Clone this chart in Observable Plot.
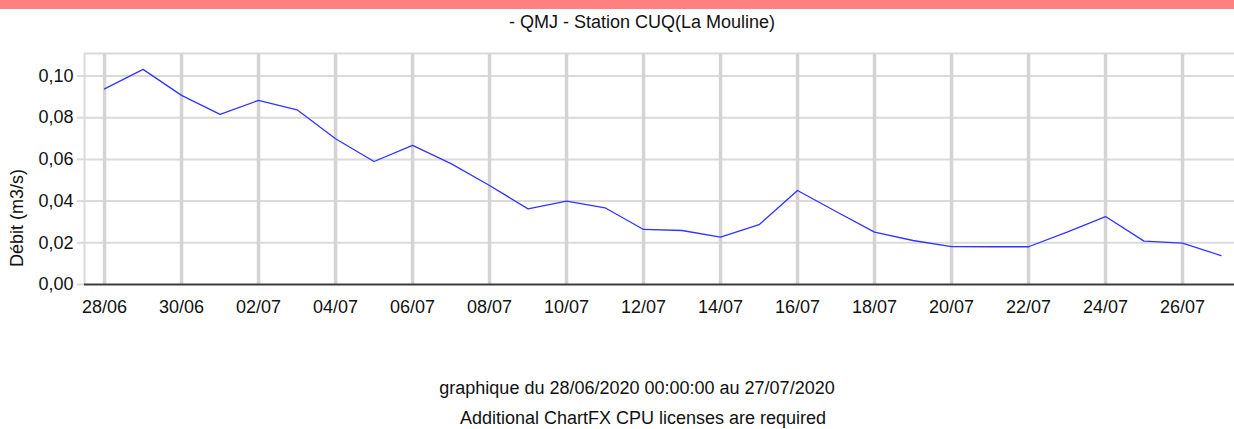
<!DOCTYPE html>
<html>
<head>
<meta charset="utf-8">
<script src="https://cdn.jsdelivr.net/npm/d3@7"></script>
<script src="https://cdn.jsdelivr.net/npm/@observablehq/plot@0.6"></script>
<style>
  html, body { margin: 0; padding: 0; background: #fff; }
  body { width: 1234px; height: 429px; position: relative; overflow: hidden;
         font-family: "Liberation Sans", Arial, sans-serif; color: #111; }
  #bar { position: absolute; left: 0; top: 0; width: 1234px; height: 9px; background: #ff8080; }
  .t { position: absolute; white-space: nowrap; font-size: 18px; line-height: 18px; transform: translateX(-50%); }
  #ylab { position: absolute; white-space: nowrap; font-size: 18px; line-height: 18px;
          left: 17px; top: 218px; transform: translate(-50%, -50%) rotate(-90deg); }
  #chart { position: absolute; left: 0; top: 40px; }
</style>
</head>
<body>
<div id="bar"></div>
<div class="t" id="title" style="left:642px; top:13px;"></div>
<div id="ylab"></div>
<div id="chart"></div>
<div class="t" id="foot1" style="left:637px; top:379px;"></div>
<div class="t" id="foot2" style="left:643px; top:409px;"></div>
<script>
// ---- data ----
const titleText = "- QMJ - Station CUQ(La Mouline)";
const yLabel = "Débit (m3/s)";
const footer1 = "graphique du 28/06/2020 00:00:00 au 27/07/2020";
const footer2 = "Additional ChartFX CPU licenses are required";

const days = [
  "2020-06-28","2020-06-29","2020-06-30","2020-07-01","2020-07-02","2020-07-03",
  "2020-07-04","2020-07-05","2020-07-06","2020-07-07","2020-07-08","2020-07-09",
  "2020-07-10","2020-07-11","2020-07-12","2020-07-13","2020-07-14","2020-07-15",
  "2020-07-16","2020-07-17","2020-07-18","2020-07-19","2020-07-20","2020-07-21",
  "2020-07-22","2020-07-23","2020-07-24","2020-07-25","2020-07-26","2020-07-27"
];
const debit = [
  0.0938, 0.1032, 0.0907, 0.0816, 0.0883, 0.0838,
  0.0699, 0.0590, 0.0667, 0.0580, 0.0475, 0.0363,
  0.0400, 0.0368, 0.0264, 0.0259, 0.0227, 0.0287,
  0.0451, 0.0350, 0.0251, 0.0211, 0.0182, 0.0181,
  0.0181, 0.0251, 0.0326, 0.0208, 0.0198, 0.0139
];
const xTickDays = [
  "2020-06-28","2020-06-30","2020-07-02","2020-07-04","2020-07-06","2020-07-08",
  "2020-07-10","2020-07-12","2020-07-14","2020-07-16","2020-07-18","2020-07-20",
  "2020-07-22","2020-07-24","2020-07-26"
];
const xTickLabels = [
  "28/06","30/06","02/07","04/07","06/07","08/07","10/07","12/07",
  "14/07","16/07","18/07","20/07","22/07","24/07","26/07"
];
const yTicks = [0, 0.02, 0.04, 0.06, 0.08, 0.10];
const yTickLabels = ["0,00","0,02","0,04","0,06","0,08","0,10"];
const xDomain = ["2020-06-27T11:30:00Z", "2020-07-27T08:24:00Z"];
const yDomain = [0, 0.1108];

// ---- build ----
document.getElementById("title").textContent = titleText;
document.getElementById("ylab").textContent = yLabel;
document.getElementById("foot1").textContent = footer1;
document.getElementById("foot2").textContent = footer2;

const data = days.map((d, i) => ({date: new Date(d + "T00:00:00Z"), q: debit[i]}));
const xTicks = xTickDays.map(d => new Date(d + "T00:00:00Z"));
const xLab = new Map(xTicks.map((d, i) => [+d, xTickLabels[i]]));
const yLab = new Map(yTicks.map((d, i) => [d, yTickLabels[i]]));

const chart = Plot.plot({
  width: 1234,
  height: 294,
  marginLeft: 84,
  marginRight: 0,
  marginTop: 13,
  marginBottom: 50,
  style: {fontFamily: "'Liberation Sans', Arial, sans-serif", fontSize: "18px", color: "#111", background: "transparent"},
  x: {type: "utc", domain: xDomain.map(d => new Date(d))},
  y: {domain: yDomain},
  marks: [
    Plot.ruleY(yTicks.slice(1), {stroke: "#dadada", strokeWidth: 2}),
    Plot.ruleY([yDomain[1]], {stroke: "#dadada", strokeWidth: 2}),
    Plot.ruleX([new Date(xDomain[0])], {stroke: "#dadada", strokeWidth: 2}),
    Plot.ruleX(xTicks, {stroke: "#d4d4d4", strokeWidth: 3.5}),
    Plot.axisY({ticks: yTicks, tickFormat: d => yLab.get(d), tickSize: 7, tickPadding: 4,
                stroke: "#dadada", strokeWidth: 2, fill: "#111", fontSize: 18, label: null}),
    Plot.axisX({ticks: xTicks, tickFormat: d => xLab.get(+d), tickSize: 0, tickPadding: 16,
                fill: "#111", fontSize: 18, label: null}),
    Plot.ruleY([0], {stroke: "#3c3c3c", strokeWidth: 2}),
    Plot.line(data, {x: "date", y: "q", stroke: "#3333ff", strokeWidth: 1.3})
  ]
});
document.getElementById("chart").appendChild(chart);
</script>
</body>
</html>
